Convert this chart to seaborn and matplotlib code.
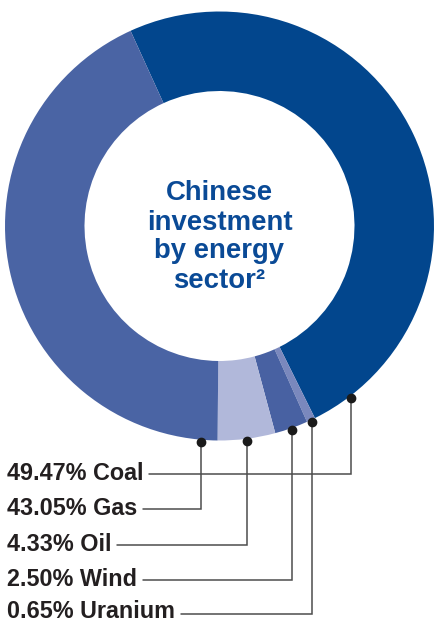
import matplotlib
matplotlib.use("Agg")
import matplotlib.pyplot as plt
import seaborn as sns
import pandas as pd
import numpy as np

# ---- data ----
sectors = ["Coal", "Gas", "Oil", "Wind", "Uranium"]
shares = [49.47, 43.05, 4.33, 2.50, 0.65]
title_lines = ["Chinese", "investment", "by energy", "sector²"]
pie_order = ["Coal", "Uranium", "Wind", "Oil", "Gas"]  # clockwise order around the ring

# ---- styles ----
colors = {"Coal": "#02468D", "Gas": "#4A64A4", "Oil": "#B1B8DA",
          "Wind": "#4861A2", "Uranium": "#7A88BD"}
anchor_frac = {"Coal": 0.938, "Gas": 0.028, "Oil": 0.5, "Wind": 0.5, "Uranium": 0.5}
label_baseline_px = [480, 515, 551, 586, 617.5]
line_offset_px = [6, 6, 6, 6, 4]
title_baseline_px = [200.5, 230.5, 258.5, 288.5]

sns.set_theme(style="white")
plt.rcParams["font.family"] = ["Liberation Sans", "DejaVu Sans"]

W, H = 435, 621
df = pd.DataFrame({"sector": sectors, "share": shares}).set_index("sector")

fig = plt.figure(figsize=(W / 100, H / 100), dpi=100)
ax = fig.add_axes([0, 0, 1, 1])

cx, cy, R = 219.5, H - 226, 214.5
wedges, _ = ax.pie(df.loc[pie_order, "share"].values,
                   colors=[colors[s] for s in pie_order],
                   startangle=114.5, counterclock=False,
                   radius=R, center=(cx, cy),
                   wedgeprops=dict(width=79.5, linewidth=0))
ax.set_xlim(0, W)
ax.set_ylim(0, H)
ax.set_aspect("equal")
ax.axis("off")

text_color = "#0A4A96"
for line, by in zip(title_lines, title_baseline_px):
    ax.text(cx, H - by, line, ha="center", va="baseline", fontsize=19.8,
            fontweight="bold", color=text_color)

label_objs = []
for s, v, by in zip(sectors, shares, label_baseline_px):
    t = ax.text(7, H - by, f"{v:.2f}% {s}", ha="left", va="baseline",
                fontsize=16.8, fontweight="bold", color="#231F20")
    label_objs.append(t)

fig.canvas.draw()
renderer = fig.canvas.get_renderer()
wmap = dict(zip(pie_order, wedges))
for s, t, by, off in zip(sectors, label_objs, label_baseline_px, line_offset_px):
    w = wmap[s]
    ang = np.deg2rad(w.theta2 - anchor_frac[s] * (w.theta2 - w.theta1))
    r = R * 1.01
    dx, dy = cx + r * np.cos(ang), cy + r * np.sin(ang)
    ext = t.get_window_extent(renderer)
    ly = H - (by - off)
    x_end = ext.x1 + 6
    ax.plot([dx, dx, x_end], [dy, ly, ly], color="#4d4d4d", lw=1.1,
            solid_joinstyle="miter", zorder=3)
    ax.plot([dx], [dy], "o", color="#1a1a1a", markersize=6, zorder=4)

fig.savefig("out.png", dpi=100)
